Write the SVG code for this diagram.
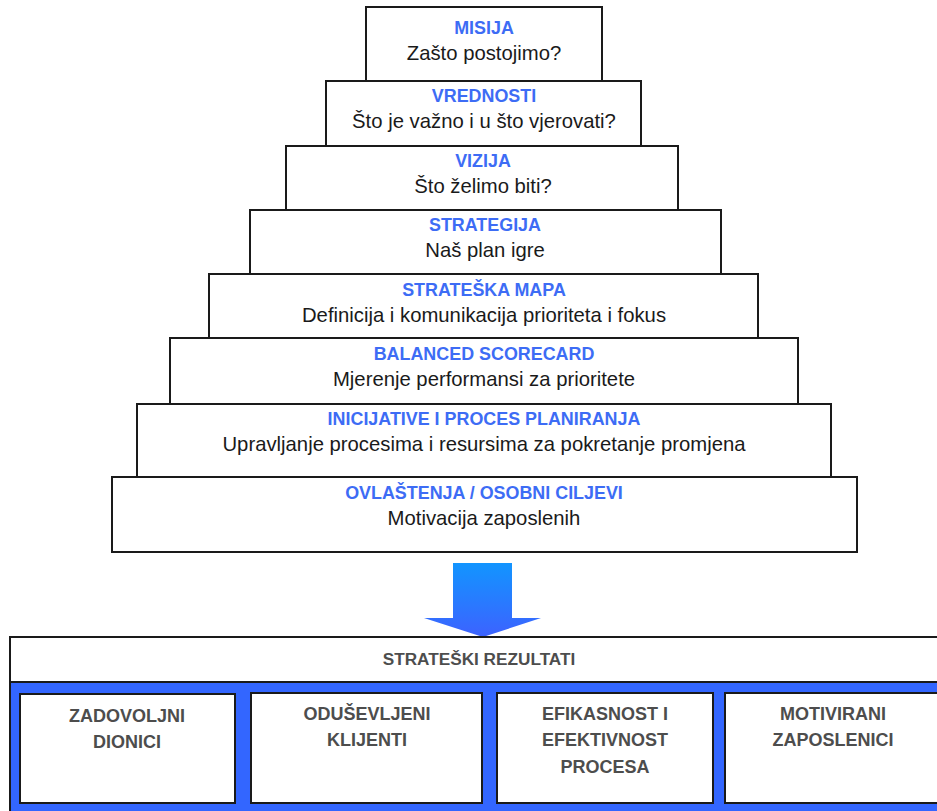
<svg xmlns="http://www.w3.org/2000/svg" width="937" height="811" viewBox="0 0 937 811">
<defs>
<linearGradient id="arrowGrad" x1="0" y1="0" x2="0" y2="1">
<stop offset="0" stop-color="#1295ff"/>
<stop offset="1" stop-color="#3d62ff"/>
</linearGradient>
</defs>
<style>
.step{fill:#ffffff;stroke:#1a1a1a;stroke-width:2}
.ttl{font-family:"Liberation Sans",Arial,sans-serif;font-weight:bold;font-size:17.9px;fill:#3d6cf5;text-anchor:middle}
.sub{font-family:"Liberation Sans",Arial,sans-serif;font-size:20.3px;fill:#1a1a1a;text-anchor:middle}
.res{fill:#ffffff;stroke:#1a1a1a;stroke-width:2}
.rt{font-family:"Liberation Sans",Arial,sans-serif;font-weight:bold;font-size:18px;fill:#4d4d4d;text-anchor:middle}
.hd{font-family:"Liberation Sans",Arial,sans-serif;font-weight:bold;font-size:17.2px;fill:#4d4d4d;text-anchor:middle}
</style>
<rect width="937" height="811" fill="#ffffff"/>

<g id="ovlastenja">
<rect class="step" x="112" y="477" width="745" height="75"/>
<text class="ttl" x="484" y="499">OVLAŠTENJA / OSOBNI CILJEVI</text>
<text class="sub" x="484" y="525">Motivacija zaposlenih</text>
</g>
<g id="inicijative">
<rect class="step" x="137" y="404" width="694" height="73"/>
<text class="ttl" x="484" y="425">INICIJATIVE I PROCES PLANIRANJA</text>
<text class="sub" x="484" y="451">Upravljanje procesima i resursima za pokretanje promjena</text>
</g>
<g id="balanced">
<rect class="step" x="170" y="338" width="628" height="66"/>
<text class="ttl" x="484" y="360">BALANCED SCORECARD</text>
<text class="sub" x="484" y="386">Mjerenje performansi za prioritete</text>
</g>
<g id="strateska-mapa">
<rect class="step" x="209" y="274" width="549" height="64"/>
<text class="ttl" x="484" y="296">STRATEŠKA MAPA</text>
<text class="sub" x="484" y="322">Definicija i komunikacija prioriteta i fokus</text>
</g>
<g id="strategija">
<rect class="step" x="250" y="210" width="471" height="64"/>
<text class="ttl" x="485" y="231">STRATEGIJA</text>
<text class="sub" x="485" y="257">Naš plan igre</text>
</g>
<g id="vizija">
<rect class="step" x="286" y="146" width="392" height="64"/>
<text class="ttl" x="483" y="167">VIZIJA</text>
<text class="sub" x="483" y="193">Što želimo biti?</text>
</g>
<g id="vrednosti">
<rect class="step" x="326" y="81" width="315" height="65"/>
<text class="ttl" x="484" y="102">VREDNOSTI</text>
<text class="sub" x="484" y="128">Što je važno i u što vjerovati?</text>
</g>
<g id="misija">
<rect class="step" x="366" y="7" width="236" height="74"/>
<text class="ttl" x="484" y="34">MISIJA</text>
<text class="sub" x="484" y="60">Zašto postojimo?</text>
</g>

<g id="connectors">
<polygon points="453,563 512,563 512,618 541,618 483,637 424,618 453,618" fill="url(#arrowGrad)"/>
</g>

<g id="strateski-rezultati">
<rect x="10" y="682" width="940" height="140" fill="#3366ff" stroke="#1a1a1a" stroke-width="2"/>
<rect x="10" y="637" width="940" height="45" fill="#ffffff" stroke="#1a1a1a" stroke-width="2"/>
<text class="hd" x="479" y="665">STRATEŠKI REZULTATI</text>
</g>
<g id="zadovoljni-dionici">
<rect class="res" x="20" y="694" width="215" height="109"/>
<text class="rt" x="127" y="722">ZADOVOLJNI</text>
<text class="rt" x="127" y="748">DIONICI</text>
</g>
<g id="odusevljeni-klijenti">
<rect class="res" x="251" y="693" width="231" height="110"/>
<text class="rt" x="367" y="720">ODUŠEVLJENI</text>
<text class="rt" x="367" y="746">KLIJENTI</text>
</g>
<g id="efikasnost-procesa">
<rect class="res" x="497" y="693" width="216" height="110"/>
<text class="rt" x="605" y="720">EFIKASNOST I</text>
<text class="rt" x="605" y="746">EFEKTIVNOST</text>
<text class="rt" x="605" y="773">PROCESA</text>
</g>
<g id="motivirani-zaposlenici">
<rect class="res" x="725" y="693" width="216" height="110"/>
<text class="rt" x="833" y="720">MOTIVIRANI</text>
<text class="rt" x="833" y="746">ZAPOSLENICI</text>
</g>
</svg>
